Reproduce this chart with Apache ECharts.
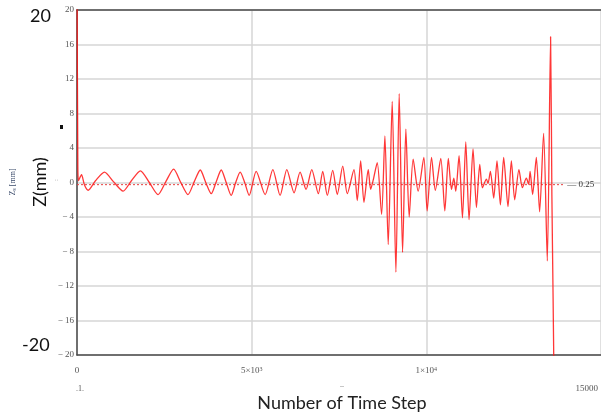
<!DOCTYPE html>
<html>
<head>
<meta charset="utf-8">
<script src="https://cdn.jsdelivr.net/npm/echarts@6/dist/echarts.min.js"></script>
<style>
  html, body { margin: 0; padding: 0; background: #fff; }
  #chart { width: 601px; height: 416px; }
</style>
</head>
<body>
<div id="chart"></div>
<script>
// Vertical displacement Z (mm) against simulation time step
const timeSteps = [
  0, 23, 43, 129, 214, 320, 529, 786, 1043, 1320, 1557, 1814, 2071, 2320, 2543,
  2766, 2971, 3177, 3357, 3529, 3686, 3843, 3986, 4129, 4271, 4414, 4543, 4671,
  4800, 4929, 5129, 5386, 5606, 5814, 6006, 6214, 6386, 6557, 6720, 6909, 7034,
  7166, 7320, 7451, 7606, 7737, 7929, 8023, 8120, 8214, 8337, 8406, 8486, 8594,
  8720, 8814, 8909, 9023, 9129, 9223, 9320, 9414, 9509, 9623, 9766, 9929, 10023,
  10149, 10257, 10414, 10529, 10629, 10720, 10786, 10843, 10937, 11034, 11129,
  11223, 11337, 11434, 11529, 11606, 11720, 11766, 11834, 11929, 12023, 12120,
  12214, 12337, 12434, 12529, 12651, 12749, 12863, 12929, 12971, 13043, 13149,
  13243, 13357, 13463, 13557, 13594, 13629, 13657
];
const zValues = [
  25, 2.8, 0.2, 0.9, -0.3, -0.9, 0.2, 1.2, 0.1, -1.0, 0.2, 1.35, 0.0, -1.4, 0.1,
  1.55, 0.0, -1.4, 0.1, 1.45, 0.0, -1.3, 0.1, 1.45, 0.0, -1.5, 0.0, 1.2,
  0.0, -1.5, 1.3, -1.4, 1.5, -1.5, 1.5, -1.2, 1.2, -0.8, 1.5, -1.3, 1.3,
  -1.5, 1.4, -1.4, 1.9, -1.3, 1.5, -2.1, 2.5, -2.3, 1.5, -0.8, 0.4, 2.3,
  -3.7, 5.4, -7.2, 9.4, -10.4, 10.3, -8.1, 6.2, -4.0, 2.7, -1.0, 2.9, -3.3,
  2.9, -0.9, 2.8, -3.3, 2.8, -0.8, 0.5, -1.0, 3.1, -4.1, 4.7,
  -4.3, 3.9, -2.9, 2.1, -0.6, 0.4, -0.1, 1.3, -1.8, 2.5, -2.6,
  2.9, -2.8, 2.5, -2.0, 1.5, -0.6, 0.5, -0.2, 1.3, -1.4, 2.9,
  -3.4, 5.7, -9.1, 16.9, -1.5, -13.5, -24
];
// Mean level marker and where its trace stops
const meanLevel = -0.25;
const meanEndStep = 13950;

const yTicks = [-20, -16, -12, -8, -4, 0, 4, 8, 12, 16, 20];
const xTickLabels = { 0: '0', 5000: '5×10{sup|3}', 10000: '1×10{sup|4}' };

const serif = 'Liberation Serif';
const sans = 'Lato';

const chart = echarts.init(document.getElementById('chart'), null, { renderer: 'canvas' });

const seriesData = timeSteps.map((t, i) => [t, zValues[i]]);

chart.setOption({
  animation: false,
  backgroundColor: '#ffffff',
  grid: { left: 77, right: 0, top: 10, bottom: 61 },
  xAxis: [{
    type: 'value', min: 0, max: 15000, interval: 5000,
    axisLine: { show: true, onZero: false, lineStyle: { color: '#4a4a4a', width: 1.5 } },
    axisTick: { show: false },
    splitLine: { show: true, lineStyle: { color: '#d6d6d6', width: 1.5 } },
    axisLabel: {
      margin: 11, showMaxLabel: false,
      fontFamily: serif, fontSize: 9, color: '#555',
      formatter: v => xTickLabels[v] || '',
      rich: { sup: { fontFamily: serif, fontSize: 6, color: '#555', verticalAlign: 'top', padding: [0, 0, 4, 0] } }
    }
  }, {
    type: 'value', position: 'top', min: 0, max: 15000,
    axisLine: { show: true, onZero: false, lineStyle: { color: '#4a4a4a', width: 1.5 } },
    axisTick: { show: false }, axisLabel: { show: false }, splitLine: { show: false }
  }],
  yAxis: {
    type: 'value', min: yTicks[0], max: yTicks[yTicks.length - 1], interval: 4,
    axisLine: { show: true, onZero: false, lineStyle: { color: '#4a4a4a', width: 1.5 } },
    axisTick: { show: false },
    splitLine: { show: true, lineStyle: { color: '#d6d6d6', width: 1.5 } },
    axisLabel: {
      margin: 3, fontFamily: serif, fontSize: 9, color: '#555',
      formatter: v => (v < 0 ? '\u2212 ' + (-v) : String(v))
    }
  },
  series: [{
    type: 'line',
    data: [[0, meanLevel], [meanEndStep, meanLevel]],
    showSymbol: false, silent: true,
    lineStyle: { color: '#e84040', width: 1, type: [2, 2] },
    endLabel: {
      show: true, distance: 3, fontFamily: serif, fontSize: 9, color: '#333',
      formatter: p => (p.value[1] < 0 ? '\u2014 ' : '') + Math.abs(p.value[1])
    },
    z: 2
  }, {
    type: 'line',
    data: seriesData,
    showSymbol: false, clip: true, smooth: 0.25,
    lineStyle: { color: 'rgba(255,20,20,0.85)', width: 1.3 },
    z: 3
  }],
  graphic: [
    { type: 'text', x: 30, y: 7, style: { text: '20', font: '18px ' + sans, fill: '#111' } },
    { type: 'text', x: 22, y: 336, style: { text: '-20', font: '18px ' + sans, fill: '#111' } },
    { type: 'text', x: 40, y: 182, rotation: Math.PI / 2,
      style: { text: 'Z(mm)', font: '18px ' + sans, fill: '#111', align: 'center', verticalAlign: 'middle' } },
    { type: 'text', x: 13, y: 182, rotation: Math.PI / 2,
      style: { text: 'Z{s|s} [mm]', font: '8px ' + serif, fill: '#3a4a6a', align: 'center', verticalAlign: 'middle',
        rich: { s: { fontSize: 5, fill: '#3a4a6a', verticalAlign: 'bottom' } } } },
    { type: 'rect', shape: { x: 60, y: 125, width: 3, height: 4 }, style: { fill: '#111' } },
    { type: 'text', x: 56, y: 180, rotation: Math.PI / 2,
      style: { text: ':', font: '7px ' + serif, fill: '#888', align: 'center', verticalAlign: 'middle' } },
    { type: 'text', x: 80, y: 389, style: { text: '.1.', font: '8px ' + serif, fill: '#555', align: 'center', verticalAlign: 'middle' } },
    { type: 'text', x: 342, y: 386, style: { text: '--', font: '6px ' + serif, fill: '#777', align: 'center', verticalAlign: 'middle' } },
    { type: 'text', x: 598, y: 389, style: { text: '15000', font: '9px ' + serif, fill: '#555', align: 'right', verticalAlign: 'middle' } },
    { type: 'text', x: 342, y: 403, style: { text: 'Number of Time Step', font: '18px ' + sans, fill: '#222', align: 'center', verticalAlign: 'middle' } }
  ]
});
</script>
</body>
</html>
